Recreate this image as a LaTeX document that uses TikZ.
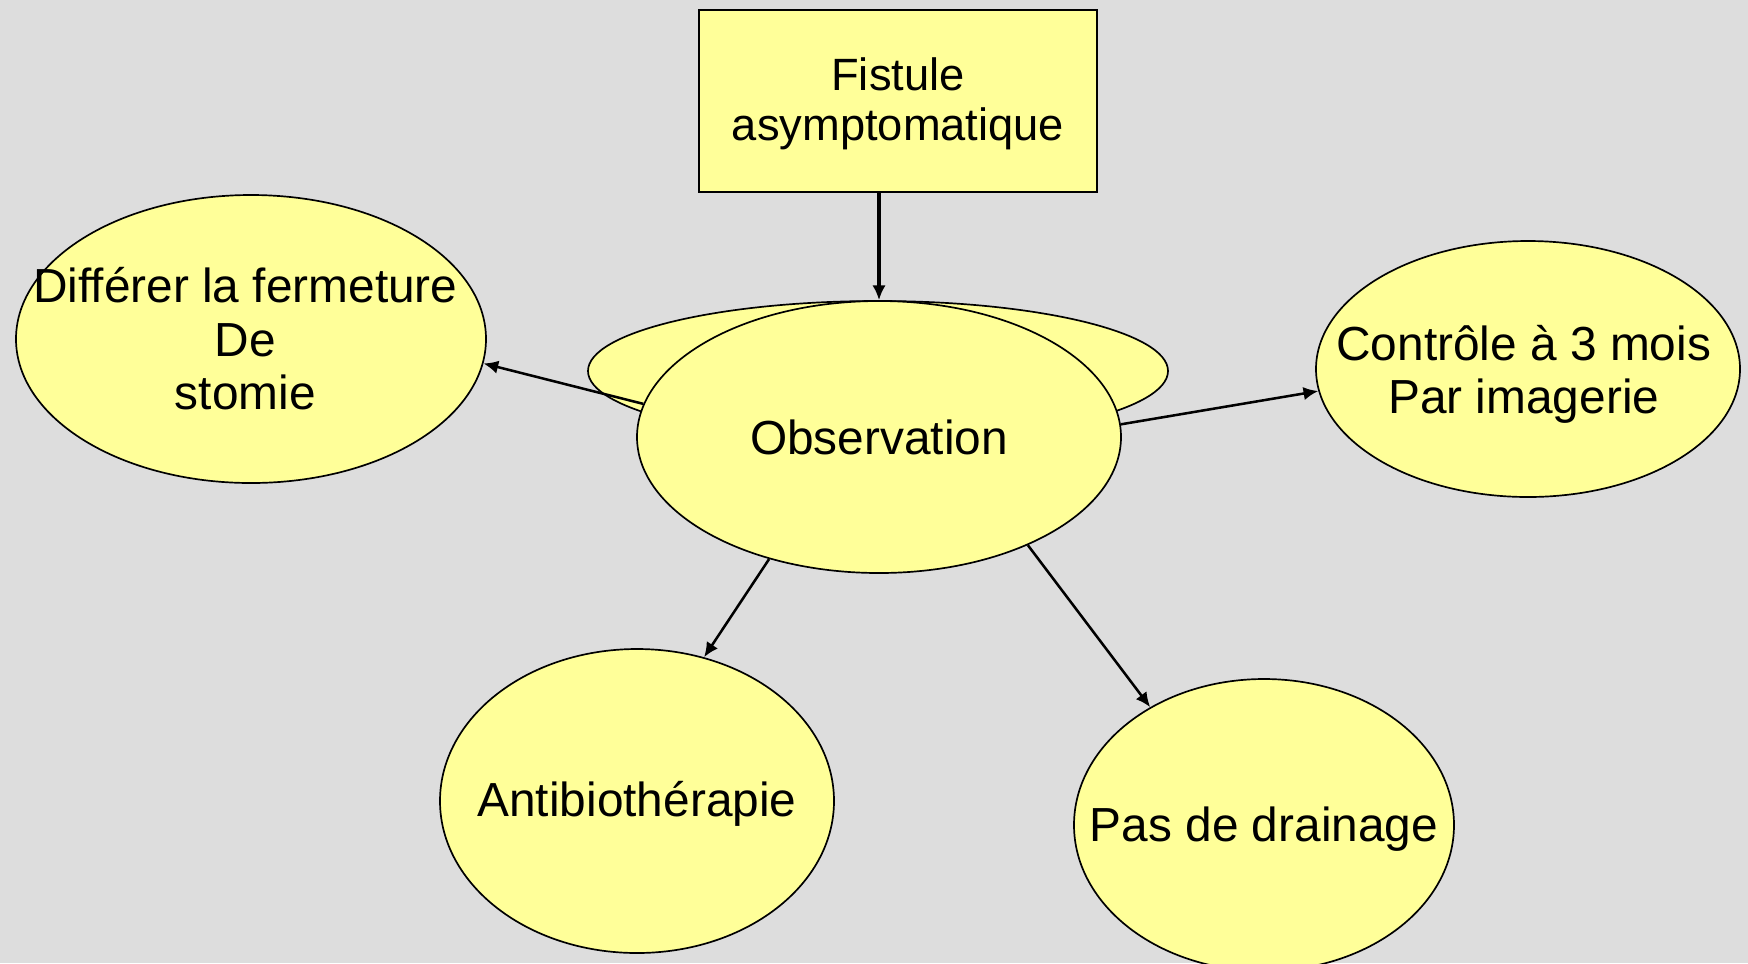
\documentclass[tikz,border=0pt]{standalone}
\usepackage{fontspec}
\setmainfont{Liberation Sans}
\usetikzlibrary{arrows.meta,shapes.geometric}
\definecolor{backgray}{HTML}{DDDDDD}
\definecolor{paleyellow}{HTML}{FFFF99}
\tikzset{
    >={Latex[length=10.5pt, width=9.5pt]}, % Default arrow tip
    txt/.style={font=\fontsize{34}{38}\selectfont, align=center},
    bubble/.style args={#1/#2}{
        ellipse, draw, fill=paleyellow, line width=1.2pt, inner sep=0pt,
        minimum width=#1*\u, minimum height=#2*\u
    },
    link/.style={->, line width=1.8pt}
}
\def\u{0.025cm}

\begin{document}
\begin{tikzpicture}[x=\u, y=-\u]
    \fill [backgray] (0, 0) rectangle (1748, 963);
    \useasboundingbox (0, 0) rectangle (1748, 963);
    \draw
        node [draw, fill=paleyellow, line width=1.2pt, minimum width=398*\u,
            minimum height=182*\u, inner sep=0pt,
            label={[txt, font=\fontsize{32.2}{35.5}\selectfont, yshift=-2pt]center:{Fistule\\asymptomatique}}]
            (fistule) at (898, 101) {}
        node [bubble=580/140] (obsback) at (878, 371) {}
        node [bubble=484/272, label={[txt]center:Observation}] (obs) at (879, 437) {}
        node [bubble=470/288, label={[txt, xshift=-4pt]center:{Différer la fermeture\\De\\stomie}}]
            (differer) at (251, 339) {}
        node [bubble=424/256, label={[txt, xshift=-3pt, yshift=-4pt]center:{Contrôle à 3 mois\\Par imagerie}}]
            (controle) at (1528, 369) {}
        node [bubble=394/304, label={[txt, yshift=-2pt]center:Antibiothérapie}]
            (antibio) at (637, 801) {}
        node [bubble=380/292, label={[txt, yshift=-3pt]center:Pas de drainage}]
            (drainage) at (1264, 825) {}
    ;
    \draw
        [->, line width=2.6pt]
        (fistule.south -| obs.north) -- (obs.north)
    ;
    \draw [link] (obs.172.9) -- (differer.354.4);
    \draw [link] (obs.3.8) -- (controle.186.2);
    \draw [link] (obs.228.7) -- (antibio.65.8);
    \draw [link] (obs.324.4) -- (drainage.134.7);
\end{tikzpicture}
\end{document}
